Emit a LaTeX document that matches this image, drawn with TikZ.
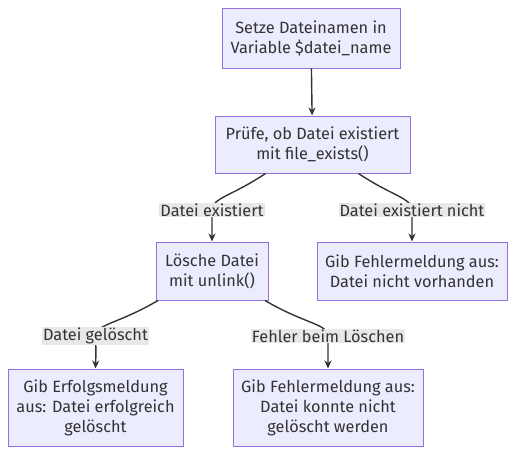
\documentclass[tikz,border=0pt]{standalone}
\usepackage{fontspec}
\setmainfont{Fira Sans}
\usetikzlibrary{arrows.meta,calc}
\definecolor{nodefill}{HTML}{ECECFF}
\definecolor{nodeline}{HTML}{9370DB}
\definecolor{txt}{HTML}{333333}
\definecolor{labfill}{HTML}{E8E8E8}
\begin{document}
\begin{tikzpicture}[x=1pt,y=-1pt,
  box/.style={draw=nodeline,fill=nodefill,line width=1pt,text=txt,align=center,
    inner sep=0pt,font=\fontsize{16.3}{20}\selectfont},
  elab/.style={fill=labfill,text=txt,inner sep=1pt,font=\fontsize{16.3}{18}\selectfont},
  edge/.style={draw=txt,line width=1.4pt,-{Stealth[length=8pt,width=7pt]}}]
\useasboundingbox (0,0) rectangle (515,455);
\node[box,minimum width=178,minimum height=60] (b1) at (311,38) {Setze Dateinamen in\\Variable \$datei\_name};
\node[box,minimum width=195,minimum height=57] (b2) at (312.5,144.5) {Prüfe, ob Datei existiert\\mit file\_exists()};
\node[box,minimum width=112,minimum height=58] (b3) at (212,271) {Lösche Datei\\mit unlink()};
\node[box,minimum width=190,minimum height=58] (b4) at (412,271) {Gib Fehlermeldung aus:\\Datei nicht vorhanden};
\node[box,minimum width=175,minimum height=77] (b5) at (95.5,407.5) {Gib Erfolgsmeldung\\aus: Datei erfolgreich\\gelöscht};
\node[box,minimum width=190,minimum height=77] (b6) at (328,407.5) {Gib Fehlermeldung aus:\\Datei konnte nicht\\gelöscht werden};
\coordinate (s1) at ($(b2.south)+(-47,0)$);
\coordinate (s2) at ($(b2.south)+(46,0)$);
\coordinate (s3) at ($(b3.south)+(-54,0)$);
\coordinate (s4) at ($(b3.south)+(53,0)$);
\coordinate (l1) at (212,210);
\coordinate (l2) at (412,210);
\coordinate (l3) at (95.5,336);
\coordinate (l4) at (328,336);
\draw[edge] (b1) -- (b2);
\draw[edge] (s1) .. controls (232,196) and (212,198) .. (l1) .. controls (212,226) .. (b3.north);
\draw[edge] (s2) .. controls (392,196) and (412,198) .. (l2) .. controls (412,226) .. (b4.north);
\draw[edge] (s3) .. controls (118,324) and (96,324) .. (l3) .. controls (96,352) .. (b5.north);
\draw[edge] (s4) .. controls (305,324) and (328,324) .. (l4) .. controls (328,352) .. (b6.north);
\node[elab] (t1) at (l1) {Datei existiert};
\node[elab] (t2) at (l2) {Datei existiert nicht};
\node[elab] (t3) at (l3) {Datei gelöscht};
\node[elab] (t4) at (l4) {Fehler beim Löschen};
\end{tikzpicture}
\end{document}
